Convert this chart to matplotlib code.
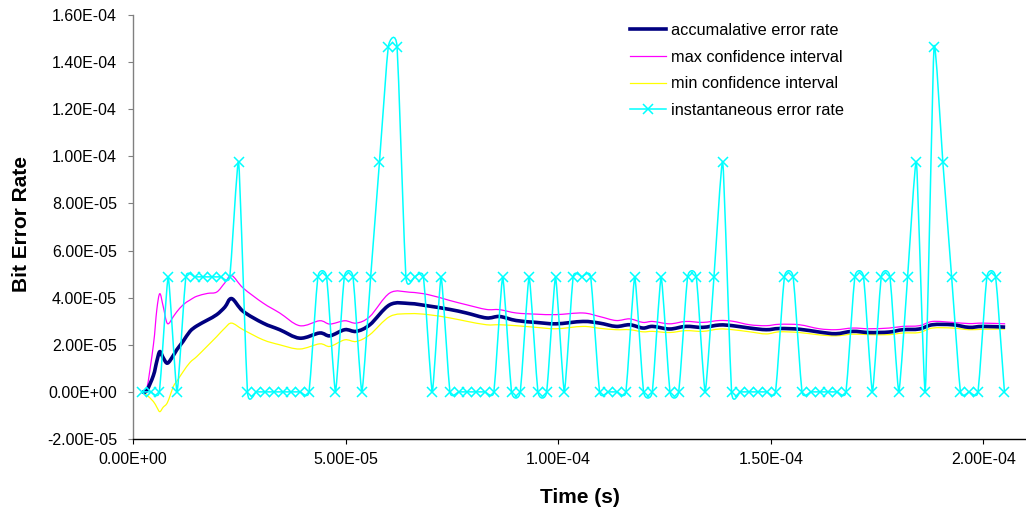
import numpy as np
import matplotlib
matplotlib.use("Agg")
import matplotlib.pyplot as plt
from matplotlib.path import Path
from matplotlib.patches import PathPatch
from matplotlib.lines import Line2D
from matplotlib.ticker import MultipleLocator, FuncFormatter

plt.rcParams['font.family'] = ['Liberation Sans', 'DejaVu Sans']

# bit errors counted in each 20480-bit window
inst_errors = [0, 0, 0, 1, 0, 1, 1, 1, 1, 1, 1, 2,
               0, 0, 0, 0, 0, 0, 0, 0,
               1, 1, 0, 1, 1, 0, 1, 2, 3, 3, 1, 1, 1, 0, 1,
               0, 0, 0, 0, 0, 0,
               1, 0, 0, 1, 0, 0, 1, 0, 1, 1, 1,
               0, 0, 0, 0,
               1, 0, 0, 1, 0, 0, 1, 1, 0, 1, 2,
               0, 0, 0, 0, 0, 0,
               1, 1,
               0, 0, 0, 0, 0, 0,
               1, 1, 0, 1, 1, 0, 1, 2, 0, 3, 2, 1,
               0, 0, 0,
               1, 1, 0]
bits_per_window = 20480
window_time = 2.07e-6

# running estimate and its confidence band (time in us, rates in 1e-5)
est_time = [2.1, 3.2, 4.8, 5.6, 6.3, 7.1, 8.1, 9.5, 10.3, 11.8, 13.4, 15.0,
            17.5, 19.7, 21.6, 23.2, 25.9, 30.6, 34.5, 39.2, 43.9, 46.3,
            49.8, 52.5, 55.7, 60.4, 65.1, 69.4, 74.5, 78.4, 83.1, 86.2,
            90.1, 94.8, 99.5, 105.8, 109.7, 113.6, 116.8, 119.9, 122.2,
            126.2, 130.0, 134.0, 137.9, 141.0, 145.0, 148.9, 152.0, 156.7,
            161.4, 165.3, 169.2, 173.1, 177.8, 181.0, 184.9, 188.0, 192.7,
            196.6, 199.8, 205.1]
acc_rate = [0.0, 0.05, 0.7, 1.3, 1.71, 1.45, 1.22, 1.55, 1.79, 2.15, 2.57, 2.8,
            3.05, 3.28, 3.6, 3.96, 3.42, 2.92, 2.64, 2.28, 2.5, 2.38,
            2.64, 2.57, 2.85, 3.7, 3.75, 3.65, 3.5, 3.35, 3.14, 3.2,
            3.03, 2.95, 2.89, 2.99, 2.92, 2.78, 2.85, 2.71, 2.78,
            2.67, 2.78, 2.74, 2.84, 2.81, 2.71, 2.64, 2.69, 2.66,
            2.54, 2.47, 2.57, 2.52, 2.54, 2.64, 2.67, 2.85, 2.85,
            2.74, 2.78, 2.75]
max_ci = [0.0, 0.1, 2.0, 3.49, 4.17, 3.63, 2.9, 3.2, 3.4, 3.7, 3.9, 4.06,
          4.18, 4.24, 4.63, 4.94, 4.41, 3.77, 3.35, 2.81, 3.02, 2.88,
          3.02, 2.92, 3.2, 4.2, 4.23, 4.13, 3.88, 3.7, 3.5, 3.49,
          3.35, 3.3, 3.28, 3.35, 3.2, 3.03, 3.1, 2.95, 2.99,
          2.89, 2.99, 2.95, 3.03, 3.0, 2.85, 2.81, 2.87, 2.85,
          2.68, 2.64, 2.71, 2.68, 2.71, 2.78, 2.81, 2.99, 2.95,
          2.9, 2.92, 2.89]
min_ci = [0.0, -0.13, -0.41, -0.65, -0.84, -0.65, -0.45, 0.23, 0.45, 0.86, 1.25, 1.5,
          1.95, 2.35, 2.71, 2.92, 2.64, 2.21, 2.0, 1.82, 2.04, 1.93,
          2.21, 2.14, 2.43, 3.2, 3.32, 3.28, 3.14, 3.0, 2.85, 2.85,
          2.81, 2.74, 2.68, 2.78, 2.7, 2.64, 2.64, 2.55, 2.57,
          2.52, 2.6, 2.57, 2.67, 2.64, 2.55, 2.46, 2.55, 2.52,
          2.42, 2.38, 2.45, 2.43, 2.43, 2.5, 2.52, 2.71, 2.71,
          2.64, 2.66, 2.67]


def smooth_path(x, y, k=1 / 14):
    # Bezier curve through every point, like a spreadsheet "smoothed line"
    p = np.column_stack([x, y])
    ext = np.vstack([p[0], p, p[-1]])
    verts = [p[0]]
    codes = [Path.MOVETO]
    for i in range(len(p) - 1):
        p0, p1, p2, p3 = ext[i], ext[i + 1], ext[i + 2], ext[i + 3]
        verts += [p1 + (p2 - p0) * k, p2 - (p3 - p1) * k, p2]
        codes += [Path.CURVE4] * 3
    return Path(verts, codes)


t_inst = window_time * np.arange(1, len(inst_errors) + 1)
inst_rate = np.array(inst_errors) / bits_per_window
t_est = np.array(est_time) * 1e-6

fig = plt.figure(figsize=(10.26, 5.12), dpi=100)
ax = fig.add_axes([133 / 1026, 73 / 512, 893 / 1026, 424 / 512])

series = [
    (t_est, np.array(acc_rate) * 1e-5, '#000080', 2.6, 'accumalative error rate'),
    (t_est, np.array(max_ci) * 1e-5, '#FF00FF', 0.9, 'max confidence interval'),
    (t_est, np.array(min_ci) * 1e-5, '#FFFF00', 0.9, 'min confidence interval'),
]
handles = []
for i, (x, y, c, lw, lab) in enumerate(series):
    ax.add_patch(PathPatch(smooth_path(x, y, 1 / 6), fill=False, edgecolor=c,
                           lw=lw, zorder=3 - i * 0.1, joinstyle='round'))
    handles.append(Line2D([], [], color=c, lw=lw, label=lab))

ax.add_patch(PathPatch(smooth_path(t_inst, inst_rate), fill=False,
                       edgecolor='#00FFFF', lw=1.1, zorder=4))
ax.plot(t_inst, inst_rate, linestyle='none', marker='x', ms=6.5, mew=1.1,
        color='#00FFFF', zorder=5)
handles.append(Line2D([], [], color='#00FFFF', lw=1.1, marker='x', ms=6.5,
                      mew=1.1, label='instantaneous error rate'))

ax.set_xlim(0, 2.1e-4)
ax.set_ylim(-2e-5, 1.6e-4)
ax.xaxis.set_major_locator(MultipleLocator(5e-5))
ax.yaxis.set_major_locator(MultipleLocator(2e-5))
fmt = FuncFormatter(lambda v, pos: f"{v:.2E}")
ax.xaxis.set_major_formatter(fmt)
ax.yaxis.set_major_formatter(fmt)

for s in ('top', 'right'):
    ax.spines[s].set_visible(False)
ax.spines['left'].set_color('#808080')
ax.spines['bottom'].set_color('black')
ax.spines['left'].set_linewidth(1.0)
ax.spines['bottom'].set_linewidth(1.0)
ax.tick_params(axis='y', direction='out', length=3.6, width=0.8,
               color='#808080', pad=8, labelsize=11.5)
ax.tick_params(axis='x', direction='out', length=3.6, width=0.8,
               color='black', pad=6, labelsize=11.5)

ax.set_xlabel('Time (s)', fontsize=15, fontweight='bold', va='center')
ax.xaxis.set_label_coords(0.5, -0.139)
ax.set_ylabel('Bit Error Rate', fontsize=15, fontweight='bold',
              va='center', ha='center')
ax.yaxis.set_label_coords(-0.1245, 0.507)

ax.legend(handles=handles, loc='upper left',
          bbox_to_anchor=(630 / 1026, 1 - 23 / 512),
          bbox_transform=fig.transFigure, frameon=False, fontsize=11.7,
          borderpad=0, borderaxespad=0, handlelength=2.2, handletextpad=0.35,
          labelspacing=0.72)

fig.savefig('out.png', dpi=100, facecolor='white')
